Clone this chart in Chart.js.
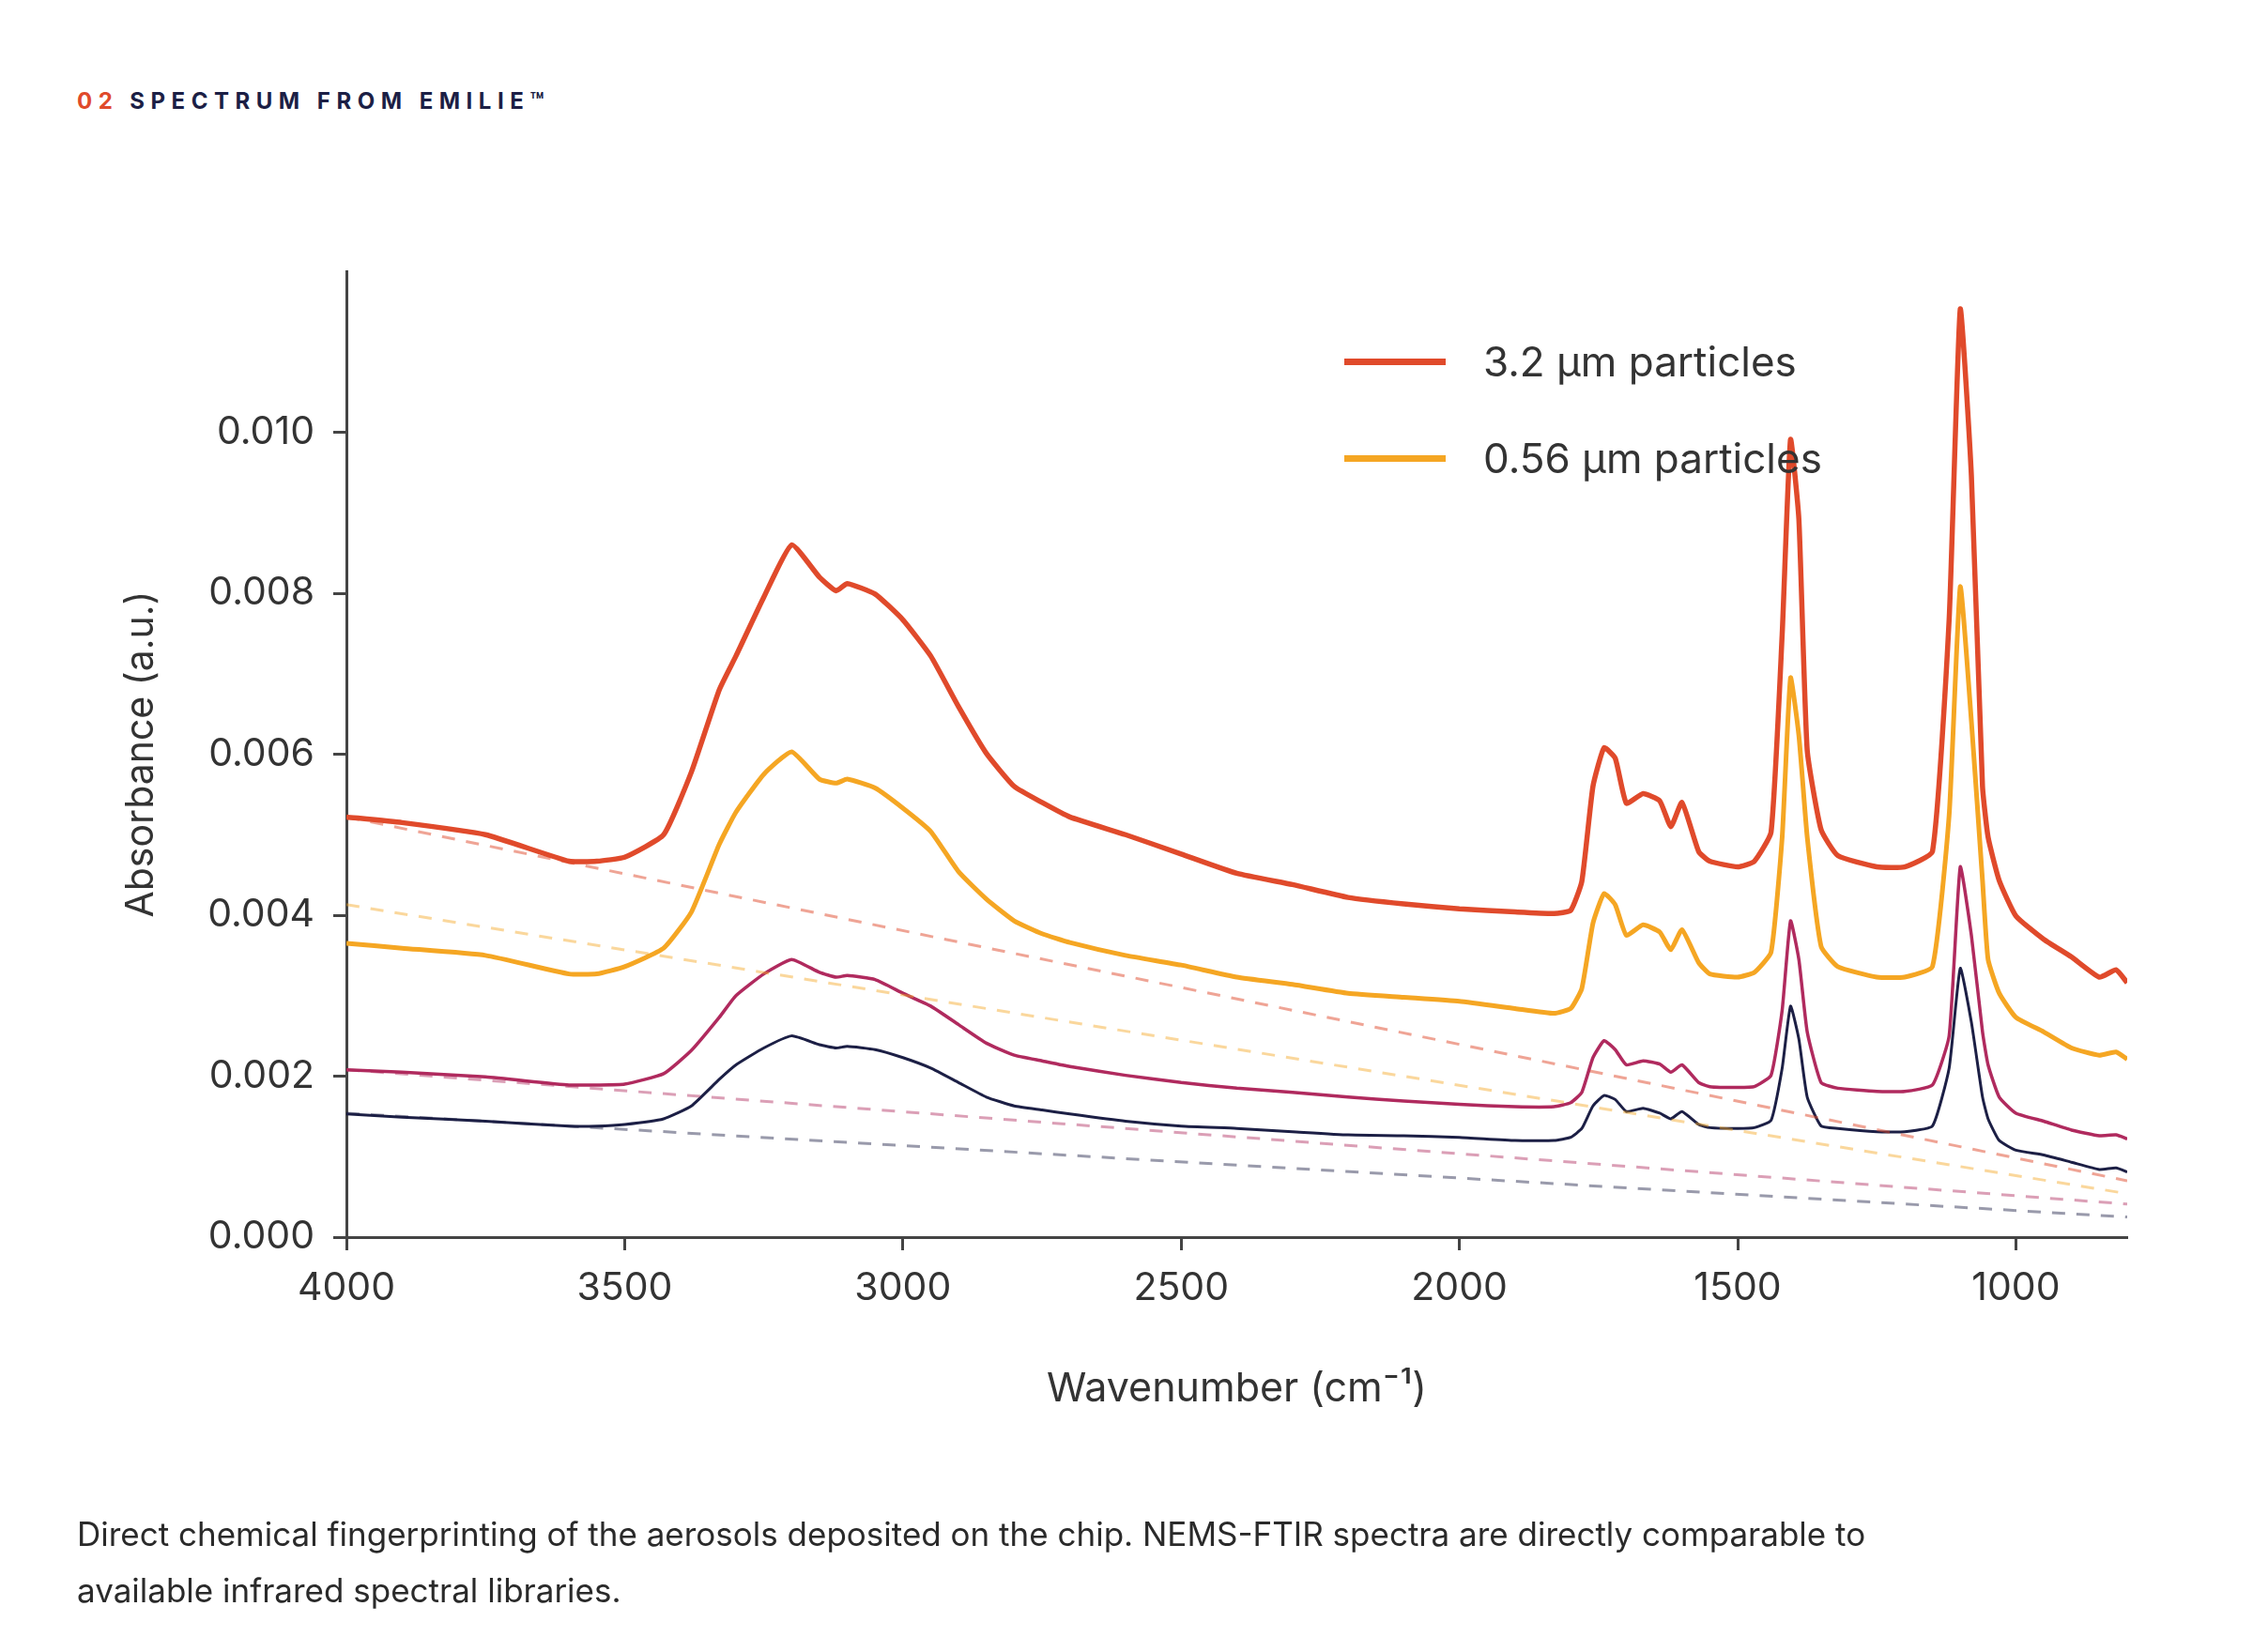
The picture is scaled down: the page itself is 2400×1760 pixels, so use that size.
<!DOCTYPE html>
<html><head><meta charset="utf-8">
<script src="https://cdn.jsdelivr.net/npm/chart.js@4"></script>
<style>
body{margin:0;width:2400px;height:1760px;background:#fff;font-family:Inter,"Noto Sans",sans-serif;position:relative;overflow:hidden}
#wrap{position:absolute;left:0;top:0;width:2400px;height:1760px}
.title{position:absolute;left:82px;top:93px;font-size:24px;font-weight:700;letter-spacing:6.5px;color:#1c1f45}
.title span{color:#e04a2b;margin-right:12px}
.cap{position:absolute;left:82px;top:1604px;font-size:35px;line-height:60px;color:#2a2a2a;width:2250px}
.leg{position:absolute;left:1432px;font-size:44px;color:#333;display:flex;align-items:center}
.leg i{display:inline-block;width:108px;height:7px;margin-right:40px}
</style></head><body>
<div class="title"><span>02</span>SPECTRUM FROM EMILIE™</div>
<div id="wrap"><canvas id="c" width="2400" height="1760"></canvas></div>
<div class="leg" style="top:358px"><i style="background:#e04a2b"></i>3.2 µm particles</div>
<div class="leg" style="top:461px"><i style="background:#f5a623"></i>0.56 µm particles</div>
<div class="cap">Direct chemical fingerprinting of the aerosols deposited on the chip. NEMS-FTIR spectra are directly comparable to<br>available infrared spectral libraries.</div>
<script>
const wavenumbers=[4000,3900,3750,3600,3550,3500,3430,3380,3330,3300,3250,3200,3150,3120,3100,3050,3000,2950,2900,2850,2800,2750,2700,2600,2500,2400,2300,2200,2100,2000,1900,1830,1800,1780,1760,1740,1720,1700,1670,1640,1620,1600,1570,1550,1500,1470,1440,1420,1405,1390,1375,1350,1320,1250,1200,1150,1120,1100,1080,1060,1050,1030,1000,950,900,850,820,800];
const red3_2=[5.22,5.15,5.0,4.67,4.67,4.72,5.0,5.78,6.8,7.22,7.95,8.6,8.2,8.03,8.12,7.99,7.67,7.22,6.59,6.01,5.6,5.40,5.22,5.0,4.76,4.52,4.38,4.22,4.14,4.08,4.04,4.02,4.06,4.42,5.6,6.08,5.95,5.39,5.51,5.42,5.1,5.4,4.79,4.67,4.6,4.67,5.03,7.49,9.91,8.92,6.05,5.06,4.74,4.6,4.6,4.79,7.67,11.53,9.46,5.6,4.97,4.43,3.99,3.70,3.48,3.23,3.32,3.16];
const orange056=[3.65,3.59,3.5,3.27,3.27,3.36,3.59,4.04,4.88,5.28,5.75,6.03,5.69,5.64,5.69,5.58,5.33,5.04,4.54,4.2,3.93,3.77,3.66,3.5,3.38,3.23,3.14,3.03,2.98,2.93,2.84,2.78,2.84,3.09,3.9,4.27,4.13,3.75,3.88,3.79,3.57,3.82,3.41,3.27,3.23,3.29,3.54,4.97,6.95,6.23,4.97,3.61,3.36,3.23,3.23,3.36,5.24,8.08,6.41,4.43,3.45,3.03,2.73,2.55,2.35,2.26,2.30,2.21];
const magenta=[2.08,2.05,1.99,1.89,1.89,1.9,2.03,2.32,2.73,3.0,3.27,3.45,3.29,3.23,3.25,3.2,3.03,2.87,2.64,2.41,2.26,2.19,2.12,2.01,1.92,1.85,1.80,1.74,1.69,1.65,1.62,1.62,1.67,1.8,2.23,2.44,2.33,2.14,2.19,2.15,2.05,2.14,1.92,1.87,1.86,1.87,2.01,2.82,3.93,3.45,2.55,1.92,1.85,1.81,1.81,1.89,2.5,4.6,3.75,2.55,2.14,1.74,1.54,1.44,1.33,1.26,1.27,1.22];
const navy=[1.53,1.49,1.44,1.38,1.38,1.4,1.47,1.63,1.96,2.14,2.35,2.5,2.39,2.35,2.37,2.33,2.23,2.1,1.92,1.74,1.63,1.58,1.53,1.44,1.38,1.35,1.31,1.27,1.26,1.24,1.2,1.2,1.24,1.35,1.63,1.76,1.71,1.56,1.6,1.54,1.47,1.56,1.4,1.36,1.35,1.36,1.45,2.1,2.87,2.46,1.74,1.38,1.35,1.31,1.31,1.38,2.1,3.34,2.67,1.74,1.47,1.2,1.08,1.02,0.93,0.84,0.86,0.81];
const baselineX=[4000,800];
const baseRed=[5.22,0.70], baseOrange=[4.13,0.54], baseMagenta=[2.08,0.41], baseNavy=[1.54,0.25];
const yTicks=[0,0.002,0.004,0.006,0.008,0.010];
const xTicks=[4000,3500,3000,2500,2000,1500,1000];
const pts=(xs,ys)=>xs.map((x,i)=>({x:x,y:ys[i]/1000}));
const line=(data,color,w)=>({data:pts(wavenumbers,data),borderColor:color,borderWidth:w,pointRadius:0,tension:0.15,fill:false});
const dash=(data,color)=>({data:pts(baselineX,data),borderColor:color,borderWidth:3,borderDash:[14,12],pointRadius:0,fill:false});
const F='Inter, "Noto Sans", sans-serif';
new Chart(document.getElementById('c'),{
 type:'line',
 data:{datasets:[
  dash(baseRed,'rgba(224,74,43,0.5)'),dash(baseOrange,'rgba(245,166,35,0.45)'),
  dash(baseMagenta,'rgba(176,42,94,0.45)'),dash(baseNavy,'rgba(28,31,69,0.45)'),
  line(navy,'#1c1f45',3),line(magenta,'#b02a5e',3.5),line(orange056,'#f5a623',5),line(red3_2,'#e04a2b',5.5)
 ]},
 options:{responsive:false,animation:false,
  layout:{padding:{top:289,right:134,left:122,bottom:250}},
  plugins:{legend:{display:false},tooltip:{enabled:false}},
  scales:{
   x:{type:'linear',reverse:true,min:800,max:4000,
    afterBuildTicks:s=>{s.ticks=xTicks.map(v=>({value:v}));},
    afterFit:s=>{s.height=192;},
    grid:{drawOnChartArea:false,drawTicks:true,tickLength:14,tickWidth:3,color:'#444'},
    border:{display:true,color:'#444',width:3},
    ticks:{font:{family:F,size:41},color:'#333',padding:16,maxRotation:0,callback:v=>String(v)},
    title:{display:true,text:'Wavenumber (cm⁻¹)',font:{family:F,size:43},color:'#333',padding:{top:46}}},
   y:{min:0,max:0.012,
    afterBuildTicks:s=>{s.ticks=yTicks.map(v=>({value:v}));},
    afterFit:s=>{s.width=247;},
    grid:{drawOnChartArea:false,drawTicks:true,tickLength:14,tickWidth:3,color:'#444'},
    border:{display:true,color:'#444',width:3},
    ticks:{font:{family:F,size:41},color:'#333',padding:20,callback:v=>v.toFixed(3)},
    title:{display:true,text:'Absorbance (a.u.)',font:{family:F,size:41},color:'#333',padding:{bottom:20}}}
  }}
});
</script></body></html>
